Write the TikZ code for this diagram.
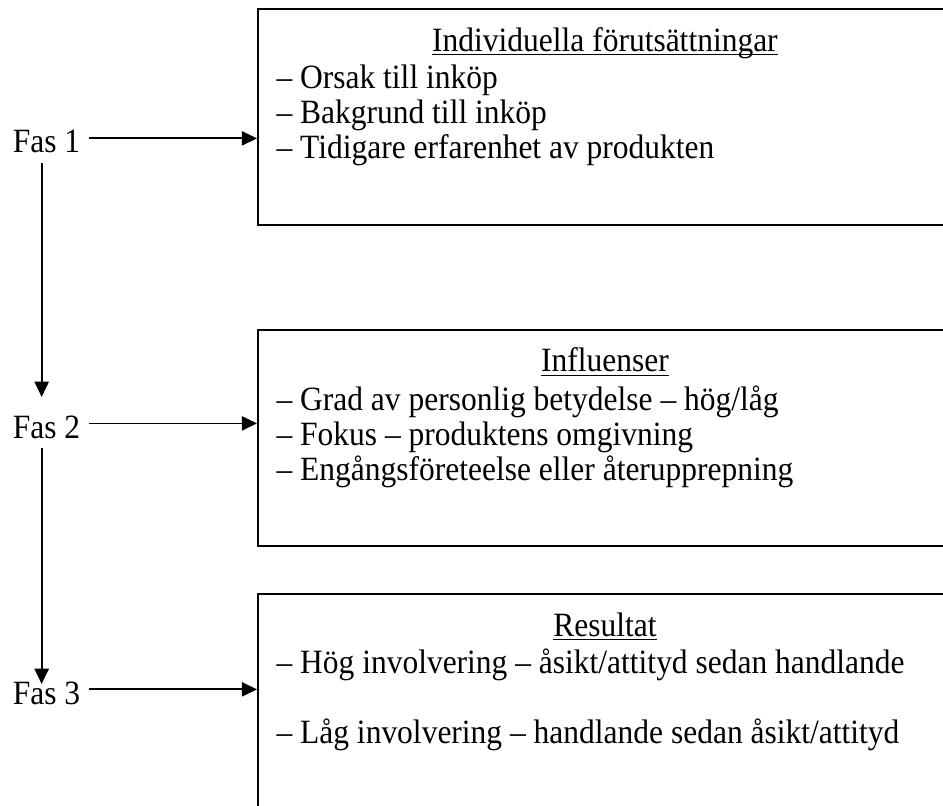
\documentclass[tikz,border=0pt]{standalone}
\usepackage{fontspec}
\setmainfont{Liberation Serif}
\usetikzlibrary{arrows.meta, positioning, calc}

\begin{document}
\begin{tikzpicture}[
  phasebox/.style={rectangle, draw=black, line width=0.9pt, fill=white,
                   minimum width=10.6cm, anchor=north west, inner sep=0pt},
  tallfont/.style={font=\fontsize{12.4}{12.76}\selectfont, yscale=1.08},
  fastext/.style={tallfont, anchor=base},
  titletext/.style={tallfont, anchor=base},
  itemtext/.style={tallfont, align=left, anchor=north west, inner sep=0pt},
  farr/.style={-{Triangle[length=6pt, width=5.6pt]}, line width=0.7pt}
]
\useasboundingbox (0,0) rectangle (13.048,-11.139);
\clip (0,0) rectangle (13.048,-11.139);

%% --- BOX 1 ---
\node[phasebox, minimum height=2.988cm] (b1) at (3.556,-0.111) {};
\node[titletext] (t1) at (8.37,-0.706)
  {\underline{\smash{Individuella förutsättningar}}};
\node[itemtext] (l1) at (3.819,-0.886)
  {-- Orsak till inköp\\
   -- Bakgrund till inköp\\
   -- Tidigare erfarenhet av produkten};

%% --- BOX 2 ---
\node[phasebox, minimum height=2.988cm] (b2) at (3.556,-4.552) {};
\node[titletext] (t2) at (8.37,-5.147) {\underline{\smash{Influenser}}};
\node[itemtext] (l2) at (3.819,-5.327)
  {-- Grad av personlig betydelse -- hög/låg\\
   -- Fokus -- produktens omgivning\\
   -- Engångsföreteelse eller återupprepning};

%% --- BOX 3 ---
\node[phasebox, minimum height=3.6cm] (b3) at (3.556,-8.205) {};
\node[titletext] (t3) at (8.37,-8.800) {\underline{\smash{Resultat}}};
\node[itemtext] (l3) at (3.819,-8.966)
  {-- Hög involvering -- åsikt/attityd sedan handlande\\[12.76pt]
   -- Låg involvering -- handlande sedan åsikt/attityd};

%% --- PHASES ---
\node[fastext] (fas1) at (0.643,-2.117) {Fas 1};
\node[fastext] (fas2) at (0.643,-6.061) {Fas 2};
\node[fastext] (fas3) at (0.643,-9.741) {Fas 3};

%% --- ARROWS ---
\draw[farr] ([yshift=1.4pt]fas1.east) -- ([yshift=1.4pt]fas1.east -| b1.west);
\draw[farr] ([yshift=1.4pt]fas2.east) -- ([yshift=1.4pt]fas2.east -| b2.west);
\draw[farr] ([yshift=1.4pt]fas3.east) -- ([yshift=1.4pt]fas3.east -| b3.west);

\draw[farr, shorten >=3.5pt]
      ([xshift=-1.9pt]fas1.south) -- ([xshift=-1.9pt]fas2.north);
\draw[farr, shorten >=-4.8pt]
      ([xshift=-1.9pt]fas2.south) -- ([xshift=-1.9pt]fas3.north);

\end{tikzpicture}
\end{document}
